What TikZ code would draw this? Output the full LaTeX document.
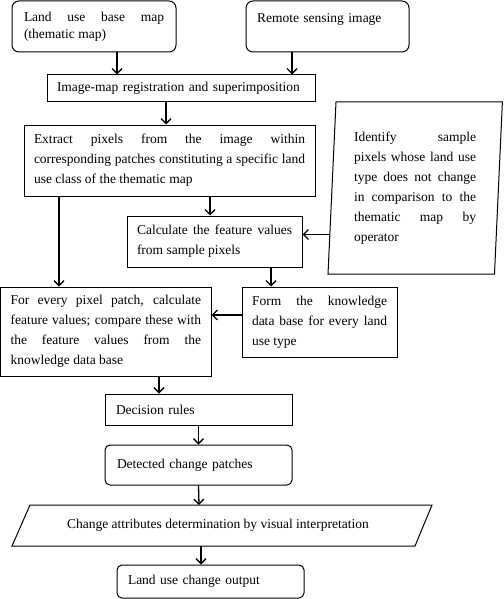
\documentclass[tikz,border=0pt]{standalone}
\usepackage{fontspec}
\setmainfont{Liberation Serif}
\usetikzlibrary{arrows.meta}
\tikzset{
  box/.style={draw, line width=1pt, rectangle, inner ysep=0pt, align=justify,
    font=\fontsize{13.5}{20}\selectfont},
  rbox/.style={box, rounded corners=5pt},
  arr/.style={-{Straight Barb[length=5pt,width=10pt]}, line width=1.3pt},
  para/.style={line width=1pt},
}
\begin{document}
\begin{tikzpicture}[x=1pt,y=-1pt]
\useasboundingbox (0,0) rectangle (503,599);
% top boxes
\node[rbox, rounded corners=7pt, minimum width=164pt, minimum height=51pt, text width=140pt, inner xsep=12pt,
  font=\fontsize{13.5}{17}\selectfont] (b1) at (94,26.5) {Land use base map\linebreak (thematic map)};
\node[rbox, rounded corners=7pt, align=left, minimum width=163pt, minimum height=51pt, text width=141pt, inner xsep=11pt,
  font=\fontsize{13.5}{17}\selectfont] (b2) at (327.5,26.5) {Remote sensing image\\\mbox{}};
\node[box, align=left, minimum width=268pt, minimum height=27pt, text width=248pt, inner xsep=10pt] (b3) at (181,88.5)
  {Image-map registration and superimposition};
\node[box, minimum width=291pt, minimum height=71pt, text width=271pt, inner xsep=10pt] (b4) at (169.5,160.5)
  {Extract pixels from the image within\linebreak corresponding patches constituting a specific land\linebreak use class of the thematic map};
% operator parallelogram
\draw[para] (336,102) -- (502.4,102) -- (494.5,274) -- (328,274) -- cycle;
\node[align=justify, text width=122pt, inner sep=0pt, font=\fontsize{13.5}{20}\selectfont] (p1) at (415,188)
  {Identify sample\linebreak pixels whose land use\linebreak type does not change\linebreak in comparison to the\linebreak thematic map by\linebreak operator};
\coordinate (p1w) at (329.8,234.5);
\node[box, minimum width=175pt, minimum height=51pt, text width=155pt, inner xsep=10pt] (b5) at (214.5,241.5)
  {Calculate the feature values\linebreak from sample pixels};
\node[box, minimum width=210.3pt, minimum height=89pt, text width=190.3pt, inner xsep=10pt] (b6) at (105.85,331.5)
  {For every pixel patch, calculate\linebreak feature values; compare these with\linebreak the feature values from the\linebreak knowledge data base};
\node[box, minimum width=155pt, minimum height=70pt, text width=135pt, inner xsep=10pt] (b7) at (319.5,322)
  {Form the knowledge\linebreak data base for every land\linebreak use type};
\node[box, align=left, minimum width=187pt, minimum height=31pt, text width=165pt, inner xsep=11pt] (b8) at (198.5,409.5)
  {Decision rules};
\node[rbox, align=left, minimum width=187pt, minimum height=40pt, text width=163pt, inner xsep=12pt] (b9) at (198.5,465)
  {Detected change patches};
% change attributes parallelogram
\draw[para] (30,505) -- (432,505) -- (415,546) -- (12,546) -- cycle;
\node[inner sep=0pt, font=\fontsize{13.5}{20}\selectfont] (p2) at (218,525.5)
  {Change attributes determination by visual interpretation};
\coordinate (p2n) at (199,505);
\coordinate (p2s) at (201,546);
\node[rbox, align=left, minimum width=187pt, minimum height=33pt, text width=165pt, inner xsep=11pt] (b10) at (210.5,581.5)
  {Land use change output};
% connectors
\draw[arr] ([xshift=23pt]b1.south) -- ([xshift=-64pt]b3.north);
\draw[arr] ([xshift=-35.5pt]b2.south) -- ([xshift=111pt]b3.north);
\draw[arr] ([xshift=-15pt]b3.south) -- ([xshift=-3.5pt]b4.north);
\draw[arr] ([xshift=-110.5pt]b4.south) -- ([xshift=-46.85pt]b6.north);
\draw[arr] ([xshift=40.5pt]b4.south) -- ([xshift=-4.5pt]b5.north);
\draw[arr] (p1w) -- (b5.east |- p1w);
\draw[arr] ([xshift=56.5pt]b5.south) -- ([xshift=-48.5pt]b7.north);
\draw[arr] ([yshift=7pt]b7.west) -- ([yshift=16.5pt]b6.east);
\draw[arr] ([xshift=53.15pt]b6.south) -- ([xshift=-39.5pt]b8.north);
\draw[arr] (b8.south) -- (b9.north);
\draw[arr] (b9.south) -- (p2n);
\draw[arr] (p2s) -- ([xshift=-9.5pt]b10.north);
\end{tikzpicture}
\end{document}
